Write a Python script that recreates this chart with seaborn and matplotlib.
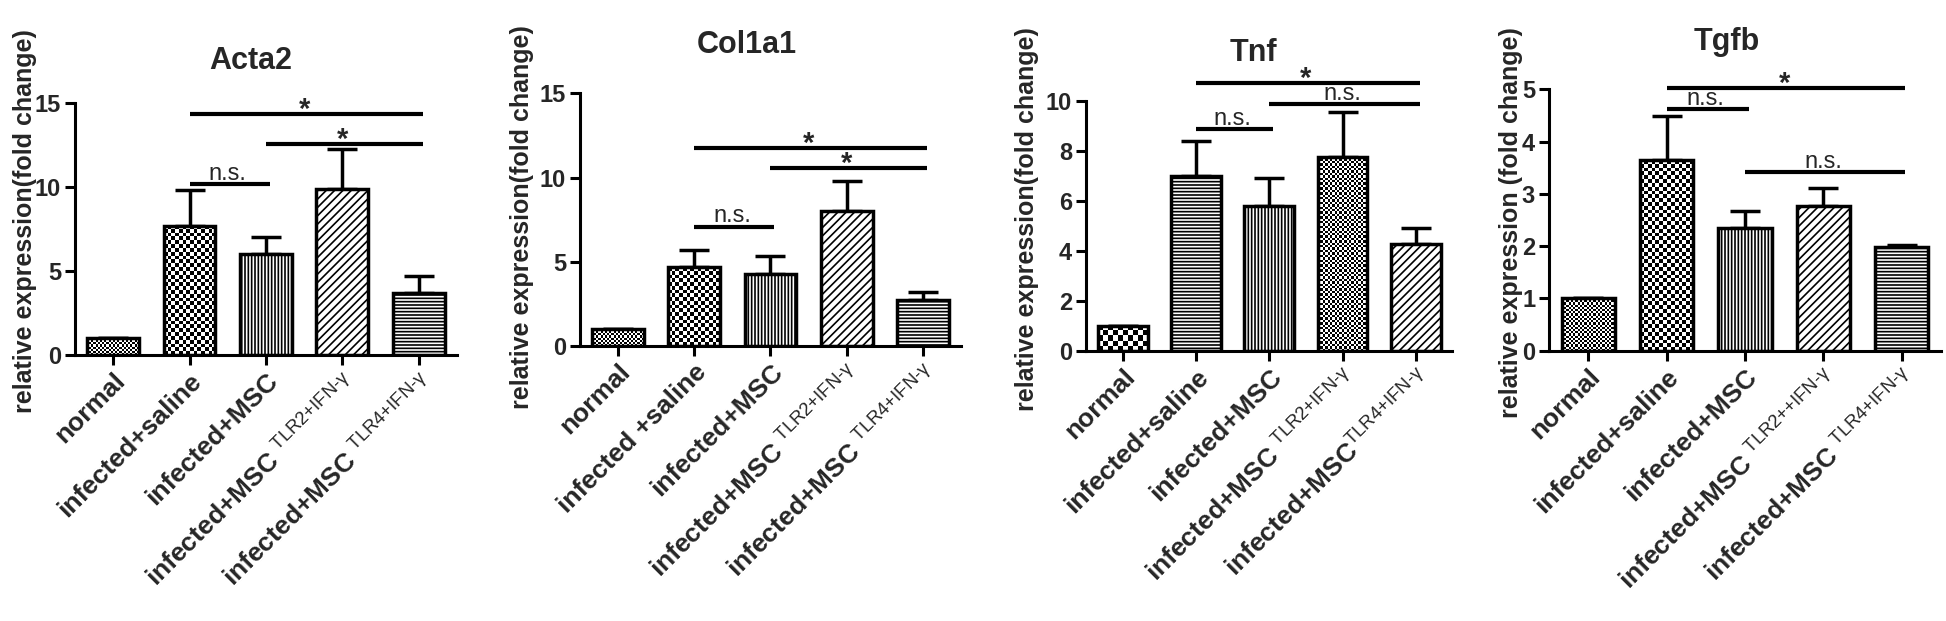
import numpy as np
import pandas as pd
import matplotlib.pyplot as plt
import seaborn as sns

sns.set_style('ticks')
plt.rcParams['font.family'] = ['Liberation Sans', 'DejaVu Sans']
plt.rcParams['mathtext.fontset'] = 'custom'
plt.rcParams['mathtext.rm'] = 'Liberation Sans'
plt.rcParams['hatch.linewidth'] = 1.2
plt.rcParams['axes.linewidth'] = 2.2

# ── data ──────────────────────────────────────────────────────────────────────
groups = ['normal', 'saline', 'MSC', 'MSC_TLR2', 'MSC_TLR4']

acta2_mean = [1.0, 7.7, 6.0, 9.85, 3.67]
acta2_err = [0.0, 2.12, 1.04, 2.39, 1.03]
col1a1_mean = [1.0, 4.67, 4.26, 8.02, 2.73]
col1a1_err = [0.0, 1.03, 1.09, 1.78, 0.50]
tnf_mean = [1.0, 7.0, 5.8, 7.76, 4.25]
tnf_err = [0.0, 1.39, 1.12, 1.80, 0.67]
tgfb_mean = [1.0, 3.65, 2.34, 2.76, 1.99]
tgfb_err = [0.0, 0.83, 0.34, 0.35, 0.04]

sup2 = r'$^{\text{TLR2+IFN-γ}}$'
sup4 = r'$^{\text{TLR4+IFN-γ}}$'
acta2_labels = ['normal', 'infected+saline', 'infected+MSC',
                'infected+MSC ' + sup2, 'infected+MSC ' + sup4]
col1a1_labels = ['normal', 'infected +saline', 'infected+MSC',
                 'infected+MSC ' + sup2, 'infected+MSC ' + sup4]
tnf_labels = ['normal', 'infected+saline', 'infected+MSC',
              'infected+MSC ' + sup2, 'infected+MSC' + sup4]
tgfb_labels = ['normal', 'infected+saline', 'infected+MSC',
               'infected+MSC ' + r'$^{\text{TLR2++IFN-γ}}$', 'infected+MSC ' + sup4]

# significance bars: (from group, to group, height, label)
acta2_sig = [(1, 4, 14.35, '*'), (2, 4, 12.56, '*'), (1, 2, 10.18, 'n.s.')]
col1a1_sig = [(1, 4, 11.74, '*'), (2, 4, 10.59, '*'), (1, 2, 7.09, 'n.s.')]
tnf_sig = [(1, 4, 10.72, '*'), (2, 4, 9.87, 'n.s.'), (1, 2, 8.85, 'n.s.')]
tgfb_sig = [(1, 4, 5.03, '*'), (1, 2, 4.62, 'n.s.'), (2, 4, 3.42, 'n.s.')]

# bar fills: line hatches, or a checkerboard with the given cell size in pixels
std_hatch = ['', '', '|||||', '////', '-----']
std_cell = [2.2, 3.8, 0, 0, 0]
tnf_hatch = ['', '-----', '|||||', '', '////']
tnf_cell = [5.0, 0, 0, 2.4, 0]

panels = [
    dict(title='Acta2', mean=acta2_mean, err=acta2_err, labels=acta2_labels, sig=acta2_sig,
         hatch=std_hatch, cell=std_cell, ymax=15, step=5,
         ylabel='relative expression(fold change)',
         rect=[0.0385, 0.4283, 0.1963, 0.4063], lab=(-0.098, 0.53), tpos=(0.46, 1.165)),
    dict(title='Col1a1', mean=col1a1_mean, err=col1a1_err, labels=col1a1_labels, sig=col1a1_sig,
         hatch=std_hatch, cell=std_cell, ymax=15, step=5,
         ylabel='relative expression(fold change)',
         rect=[0.2980, 0.4428, 0.1958, 0.4069], lab=(-0.12, 0.51), tpos=(0.438, 1.19)),
    dict(title='Tnf', mean=tnf_mean, err=tnf_err, labels=tnf_labels, sig=tnf_sig,
         hatch=tnf_hatch, cell=tnf_cell, ymax=10, step=2,
         ylabel='relative expression(fold change)',
         rect=[0.5581, 0.4353, 0.1883, 0.4026], lab=(-0.128, 0.525), tpos=(0.456, 1.19)),
    dict(title='Tgfb', mean=tgfb_mean, err=tgfb_err, labels=tgfb_labels, sig=tgfb_sig,
         hatch=std_hatch, cell=std_cell, ymax=5, step=1,
         ylabel='relative expression (fold change)',
         rect=[0.7960, 0.4353, 0.2013, 0.4209], lab=(-0.066, 0.49), tpos=(0.454, 1.18)),
]


def checker(ax, patch, cell_px):
    x0, y0 = patch.get_x(), patch.get_y()
    w, h = patch.get_width(), patch.get_height()
    (px0, py0), (px1, py1) = ax.transData.transform([(x0, y0), (x0 + w, y0 + h)])
    nx = max(1, int(round((px1 - px0) / cell_px)))
    ny = max(1, int(round((py1 - py0) / cell_px)))
    board = np.indices((ny, nx)).sum(axis=0) % 2
    im = ax.imshow(board, cmap='gray', extent=(x0, x0 + w, y0, y0 + h), origin='lower',
                   aspect='auto', interpolation='nearest', zorder=1.5)
    im.set_clip_path(patch)


fig = plt.figure(figsize=(19.46, 6.21), dpi=100)

for p in panels:
    ax = fig.add_axes(p['rect'])
    df = pd.DataFrame({'group': groups, 'value': p['mean']})
    sns.barplot(data=df, x='group', y='value', color='white', saturation=1,
                edgecolor='black', linewidth=2.5, width=0.68, errorbar=None, ax=ax)
    ax.set_xlim(-0.5, 4.5)
    ax.set_ylim(0, p['ymax'])

    for patch, h, c in zip(list(ax.patches), p['hatch'], p['cell']):
        patch.set_zorder(2)
        if c:
            patch.set_facecolor('none')
            checker(ax, patch, c)
        else:
            patch.set_hatch(h)

    x = np.arange(len(groups))
    ax.errorbar(x, p['mean'], yerr=[np.zeros(len(x)), p['err']], fmt='none',
                ecolor='black', elinewidth=2.5, capsize=11, capthick=2.5, zorder=1)

    for i, j, y, s in p['sig']:
        ax.plot([i, j + 0.05], [y, y], color='black', lw=3, clip_on=False,
                solid_capstyle='butt')
        if s == '*':
            ax.annotate(s, ((i + j) / 2, y), xytext=(0, -3), textcoords='offset points',
                        ha='center', va='baseline', fontsize=21, fontweight='bold',
                        annotation_clip=False)
        else:
            ax.annotate(s, ((i + j) / 2, y), xytext=(0, 3), textcoords='offset points',
                        ha='center', va='baseline', fontsize=17,
                        annotation_clip=False)

    ax.set_xlim(-0.5, 4.5)
    ax.set_ylim(0, p['ymax'])
    ax.set_yticks(np.arange(0, p['ymax'] + 0.1, p['step']))
    ax.set_xticks(x)
    ax.set_xticklabels(p['labels'], rotation=45, ha='right', rotation_mode='anchor',
                       fontsize=19, fontweight='bold')
    for t in ax.get_yticklabels():
        t.set_fontsize(17)
        t.set_fontweight('bold')
    ax.tick_params(axis='both', length=7, width=2.2, direction='out', color='black', pad=3)
    ax.set_xlabel('')
    ax.set_ylabel(p['ylabel'], fontsize=18, fontweight='bold')
    ax.yaxis.set_label_coords(*p['lab'])
    ax.text(p['tpos'][0], p['tpos'][1], p['title'], transform=ax.transAxes,
            ha='center', va='center', fontsize=22, fontweight='bold')
    sns.despine(ax=ax)
    for sp in ['left', 'bottom']:
        ax.spines[sp].set_color('black')
        ax.spines[sp].set_linewidth(2.2)

fig.savefig('out.png', dpi=100)
